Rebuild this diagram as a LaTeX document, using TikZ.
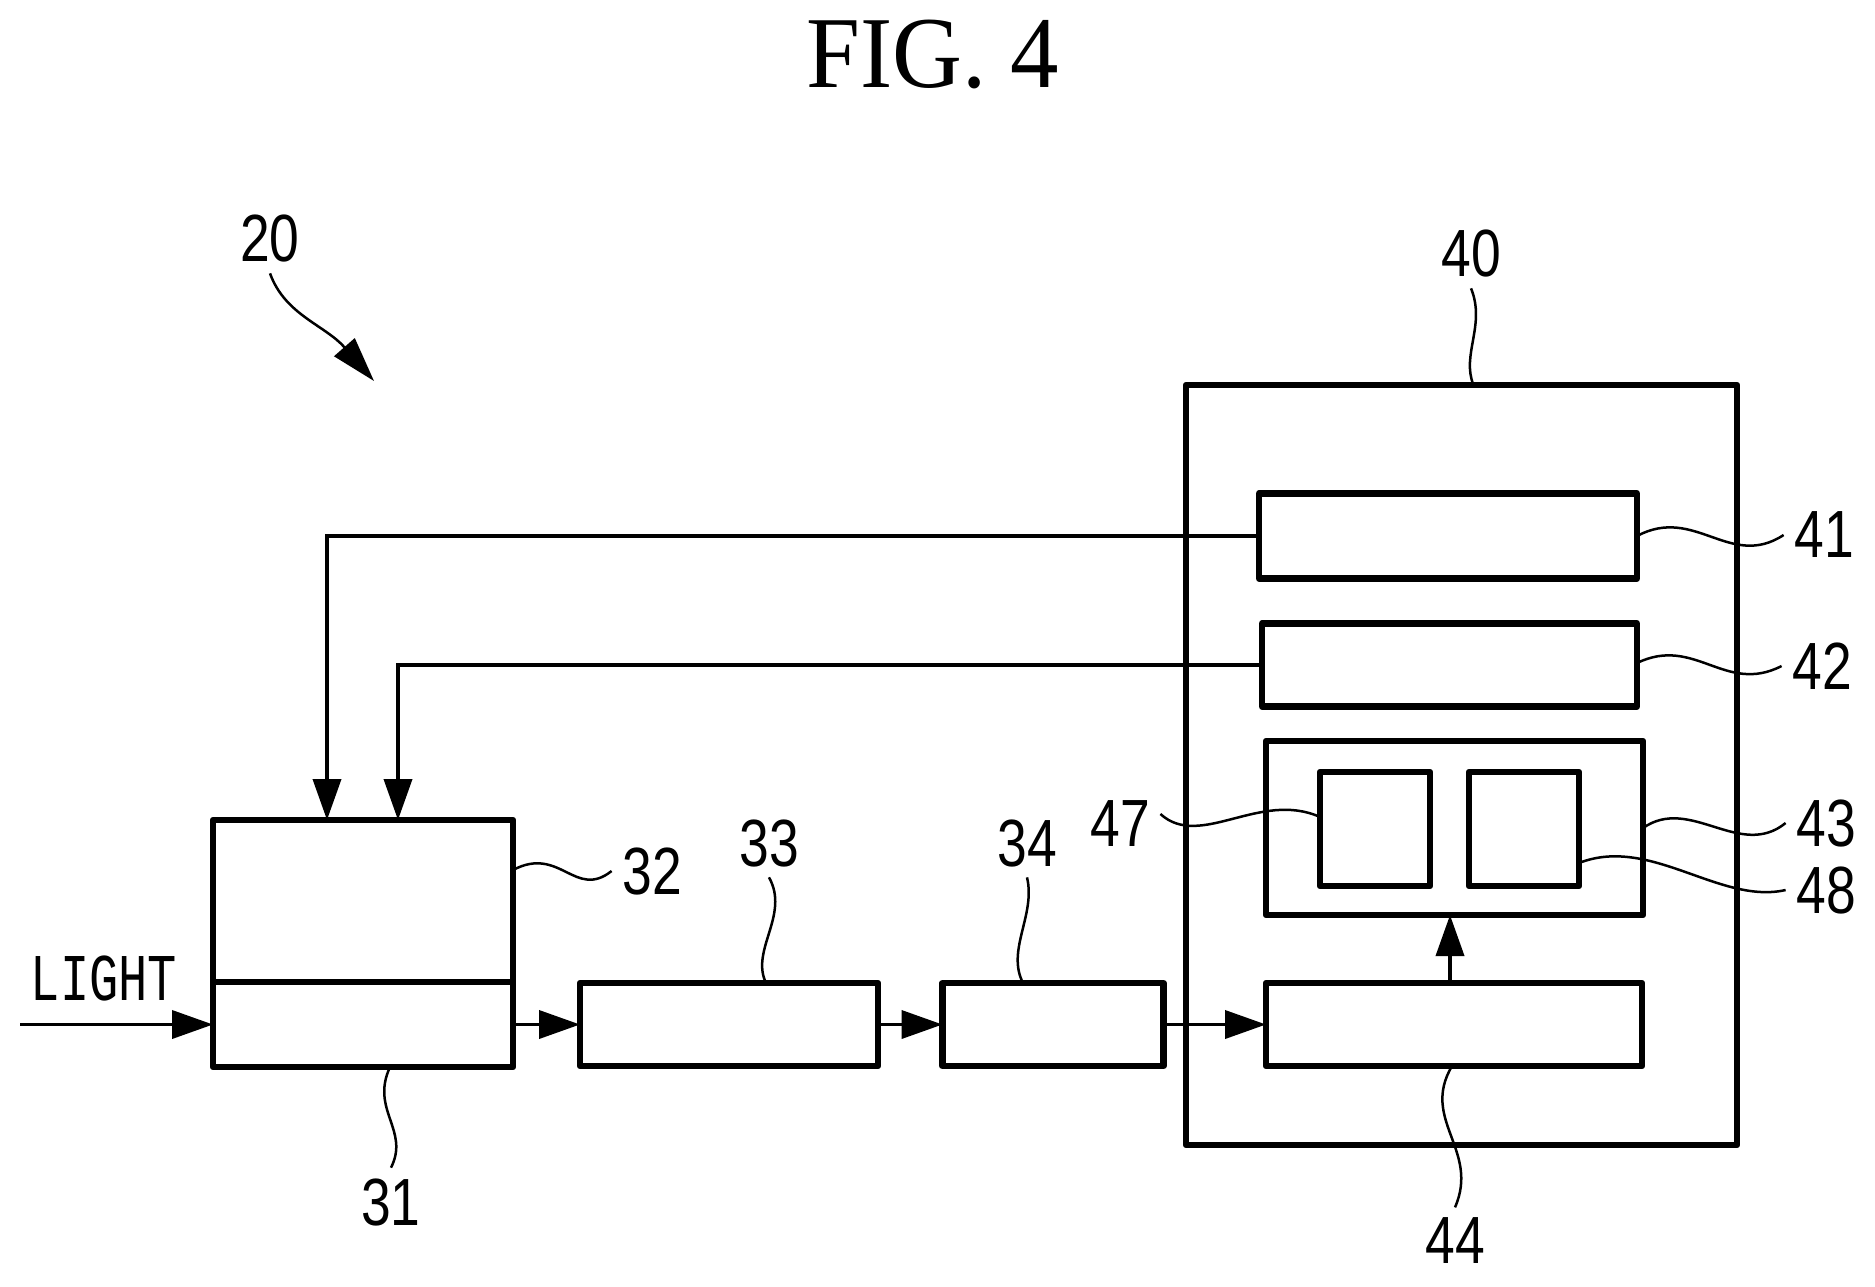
\documentclass[tikz,border=0pt]{standalone}
\usepackage{fontspec}
\usetikzlibrary{arrows.meta}
\setmainfont[FakeStretch=0.95]{Liberation Serif}
\newfontfamily\numfont[FakeStretch=0.8]{Liberation Sans}
\newfontfamily\lightfont[FakeStretch=0.73]{Liberation Mono}
\tikzset{
  blockbox/.style={draw,rectangle,line width=.65mm,inner sep=0,outer sep=0,line join=round},
  reflabel/.style={inner sep=1mm,font=\numfont\fontsize{19}{19}\selectfont},
  leader/.style={line width=.25mm},
  sigline/.style={line width=.38mm,-{Triangle[length=4.1mm,width=2.8mm]}},
}
\begin{document}
\begin{tikzpicture}[x=.1mm,y=-.1mm]
\useasboundingbox (0,0) rectangle (1875,1286);
\node[inner sep=0,font=\fontsize{29}{29}\selectfont] (title) at (933,54) {FIG. 4};
% blocks: name/x/y/width/height
\foreach \n/\x/\y/\w/\h in {31/363/1024.5/30/8.5,32/363/901/30/16.2,33/729/1024.5/29.8/8.3,34/1053/1024.5/22.1/8.3,
    40/1461.5/765/55.1/76,41/1448/536/37.8/8.5,42/1449.5/665/37.5/8.3,43/1454.5/828/37.7/17.4,
    44/1454/1024.5/37.6/8.3,47/1375/829/11/11.4,48/1524/829/11/11.4}
   \node[blockbox,minimum width=\w mm,minimum height=\h mm] (b\n) at (\x,\y) {};
% reference numerals
\foreach \n/\x/\y in {20/270/239,31/391/1202,32/652/871,33/769/843,34/1027/843,40/1471/254,41/1824/535,
    42/1822/666,43/1826/823,44/1455/1241,47/1120/824,48/1826/890}
   \node[reflabel] (l\n) at (\x,\y) {\n};
\node[inner sep=0,font=\lightfont\fontsize{19}{19}\selectfont] (light) at (104,978) {LIGHT};
\coordinate (src) at (20,1024.5);
\coordinate (tip20) at (374,381);
% signal arrows
\draw[sigline] (src) -- (b31.west);
\draw[sigline] (b31.east) -- (b33.west);
\draw[sigline] (b33.east) -- (b34.west);
\draw[sigline] (b34.east) -- (b44.west);
\draw[sigline] ([xshift=-.4mm]b44.north) -- ([xshift=-.45mm]b43.south);
\draw[sigline] (b41.west) -| ([xshift=-3.6mm]b32.north);
\draw[sigline] (b42.west) -| ([xshift=3.5mm]b32.north);
% leaders
\draw[leader,-{Triangle[length=4.5mm,width=2.7mm]}] (l20.south) .. controls (285,315) and (325,325) .. (tip20);
\draw[leader] ([xshift=2.7mm]b31.south) .. controls (370,1110) and (410,1130) .. (l31.north);
\draw[leader] ([yshift=3.1mm]b32.east) .. controls (560,845) and (575,900) .. (l32.west);
\draw[leader] ([xshift=3.7mm]b33.north) .. controls (750,950) and (790,915) .. (l33.south);
\draw[leader] ([xshift=-3mm]b34.north) .. controls (1006,950) and (1036,915) .. (l34.south);
\draw[leader] ([xshift=1.2mm]b40.north) .. controls (1461,355) and (1486,325) .. (l40.south);
\draw[leader] (b41.east) .. controls (1695,505) and (1730,570) .. (l41.west);
\draw[leader] ([yshift=.2mm]b42.east) .. controls (1695,635) and (1725,695) .. (l42.west);
\draw[leader] (b43.east) .. controls (1690,795) and (1740,860) .. (l43.west);
\draw[leader] ([xshift=-.2mm]b44.south) .. controls (1420,1120) and (1480,1150) .. (l44.north);
\draw[leader] ([yshift=1.2mm]b47.west) .. controls (1260,790) and (1200,850) .. ([yshift=1mm]l47.east);
\draw[leader] ([yshift=-3.4mm]b48.east) .. controls (1650,835) and (1720,905) .. (l48.west);
\end{tikzpicture}
\end{document}
